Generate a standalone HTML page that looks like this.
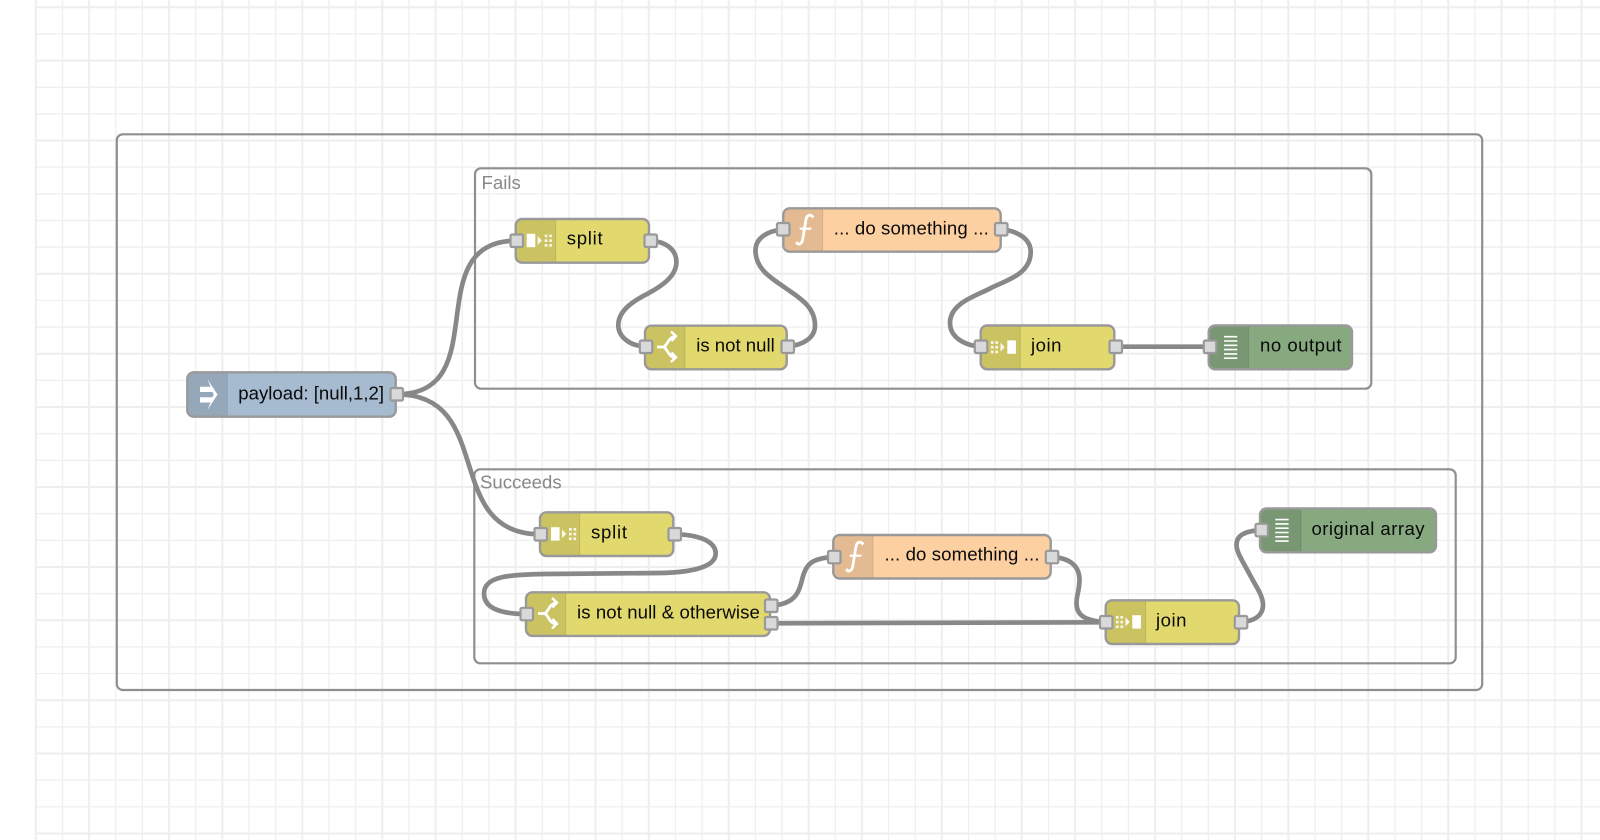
<!DOCTYPE html>
<html><head><meta charset="utf-8"><title>Flow</title>
<style>
html,body{margin:0;padding:0;background:#fff;width:1600px;height:840px;overflow:hidden}
svg{display:block}
text{font-family:"Liberation Sans",Arial,sans-serif}
.l{font-size:18.6px;fill:#0a0a0a}
.g{font-size:18.6px;fill:#888}
.n{stroke:#999;stroke-width:2.4}
.w{fill:none;stroke:#888;stroke-width:4.7}
.b{fill:none;stroke:#8f8f8f;stroke-width:2.2}
.p{fill:#d9d9d9;stroke:#999;stroke-width:2.2}
.d{fill:#000;fill-opacity:.1}
</style></head>
<body>
<svg width="1600" height="840" viewBox="0 0 1600 840" xmlns="http://www.w3.org/2000/svg">
<defs>
<pattern id="gv" patternUnits="userSpaceOnUse" x="30.8" y="0" width="213.2" height="840">
<g stroke="#eee" fill="none">
<path stroke-width="1.2" d="M5 0V840M31.65 0V840M84.95 0V840M111.6 0V840M164.9 0V840"/>
<path stroke-width="2" d="M58.3 0V840M138.25 0V840M191.55 0V840"/>
</g>
</pattern>
<g id="isplit">
<rect x="11" y="-7" width="8.6" height="13.4" fill="#fff"/>
<path d="M22-4.8 26.2-.3 22 4.2z" fill="#fff" fill-opacity=".9"/>
<g fill="#fff" fill-opacity=".85"><rect x="29" y="-6.2" width="2.7" height="2.7"/><rect x="33.5" y="-6.2" width="2.7" height="2.7"/><rect x="29" y="-1.5" width="2.7" height="2.7"/><rect x="33.5" y="-1.5" width="2.7" height="2.7"/><rect x="29" y="3.2" width="2.7" height="2.7"/><rect x="33.5" y="3.2" width="2.7" height="2.7"/></g>
</g>
<g id="ijoin">
<rect x="26.6" y="-7" width="8.6" height="13.4" fill="#fff"/>
<path d="M19.8-4.8 24-.3 19.8 4.2z" fill="#fff" fill-opacity=".9"/>
<g fill="#fff" fill-opacity=".85"><rect x="10.2" y="-6.2" width="2.7" height="2.7"/><rect x="14.7" y="-6.2" width="2.7" height="2.7"/><rect x="10.2" y="-1.5" width="2.7" height="2.7"/><rect x="14.7" y="-1.5" width="2.7" height="2.7"/><rect x="10.2" y="3.2" width="2.7" height="2.7"/><rect x="14.7" y="3.2" width="2.7" height="2.7"/></g>
</g>
<g id="iswitch" fill="none" stroke="#fff" stroke-width="2.8">
<path d="M12-.5H18C22-.5 23-10.5 30-11M18-.5C22-.5 23 9.5 30 10"/>
<path d="M26-16 31-11.3 26.5-6.5M26.5 5 31 9.8 26 14.5" stroke-width="2.4"/>
</g>
<g id="idebug" stroke="#fff" stroke-width="1.6">
<path d="M15.3-10.8H28.6M15.3-6.5H28.6M15.3-2.2H28.6M15.3 2.1H28.6M15.3 6.4H28.6M15.3 10.7H28.6"/>
</g>
<g id="ifn" fill="none" stroke="#fff" stroke-width="2.8">
<path d="M30-12.5C27.5-16 23.5-16 22.5-9.5L19.5 9C18.5 14.5 15 15.5 13 12"/>
<path d="M16.4-1.3H28" stroke-width="2.2"/>
</g>
</defs>

<rect x="35" y="0" width="1565" height="840" fill="url(#gv)"/>
<path d="M35.8 0V840" stroke="#eee" stroke-width="2"/>
<g stroke="#eee" fill="none">
<path stroke-width="1.2" d="M35 33.95H1600M35 87.25H1600M35 113.9H1600M35 167.2H1600M35 193.85H1600M35 220.5H1600M35 247.15H1600M35 300.45H1600M35 327.1H1600M35 380.4H1600M35 433.7H1600M35 460.35H1600M35 513.65H1600M35 540.3H1600M35 593.6H1600M35 646.9H1600M35 673.55H1600M35 726.85H1600M35 780.15H1600M35 806.8H1600"/>
<path stroke-width="2" d="M35 7.3H1600M35 60.6H1600M35 140.55H1600M35 273.8H1600M35 353.75H1600M35 407.05H1600M35 487H1600M35 566.95H1600M35 620.25H1600M35 700.2H1600M35 753.5H1600M35 833.45H1600"/>
</g>

<!-- groups -->
<rect class="b" x="116.8" y="134.3" width="1365.4" height="555.7" rx="6"/>
<rect class="b" x="475" y="168.3" width="896.3" height="220.4" rx="6"/>
<rect class="b" x="474.3" y="469.3" width="981.4" height="194" rx="6"/>
<text class="g" x="481.5" y="189">Fails</text>
<text class="g" x="480" y="488.3">Succeeds</text>

<!-- wires -->
<path class="w" d="M396.7 394.3C496.7 394.3 416.7 240.7 516.7 240.7"/>
<path class="w" d="M396.7 394.3C496.7 394.3 440.7 534.3 540.7 534.3"/>
<path class="w" d="M650.7 240.7C665 241.5 676.4 249 676.4 262C676.4 277 660 287 648 293.5C635 300 618.3 310 618.3 325C618.3 337 630 346 646 346.7"/>
<path class="w" d="M787.7 346.7C803 345 815 338 815 325.5C815 306 798 297 785.5 288C773 279 755.5 270 755.5 250.5C755.5 238 767 231 783.3 229.3"/>
<path class="w" d="M1001.3 229.3C1018 231 1030.7 239 1030.7 252C1030.7 275 1004 281 991 288C976 296 950 303 950 323C950 336 962 345 981 346.7"/>
<path class="w" d="M1115.7 346.7H1210"/>
<path class="w" d="M674.7 534.3C700 534.5 715.7 542 715.7 553.5C715.7 570 680 572.7 660 573L545 574C510 574.5 484 576 484 593.5C484 608 500 614 526.7 614"/>
<path class="w" d="M771.3 605.7C796 604 799 592 802.5 578C806 564 812 558 834.3 557"/>
<path class="w" d="M771.3 623.3C871 623.3 1006 622.3 1106.3 622.3"/>
<path class="w" d="M1052 557C1070 558 1079.5 566 1079.5 580C1079.5 590 1076.5 595 1076.5 603C1076.5 616 1086 621 1106.3 622.3"/>
<path class="w" d="M1241 622.3C1255 621 1263 615 1263 605C1263 595 1255 585 1250 575C1245 565 1236.5 553 1236.5 545C1236.5 535 1245 531 1261.7 530"/>

<!-- inject -->
<rect class="n" x="187.3" y="372.3" width="208.4" height="44.4" rx="6.5" fill="#a6bbcf"/>
<path class="d" d="M193.8 373.5H227.3V415.5H193.8A5.5 5.5 0 0 1 188.5 410V379A5.5 5.5 0 0 1 193.8 373.5Z"/>
<path d="M227.3 373.5V415.5" stroke="#000" stroke-opacity=".1"/>
<path d="M207.5 379.3 217.5 394.5 207.5 410 210.5 402.5H200V397.2H212.5L213.8 394.5 212.5 392H200V386.7H210.5Z" fill="#fff"/>
<text class="l" x="238.3" y="399.3">payload: [null,1,2]</text>

<!-- split 1 -->
<rect class="n" x="515.7" y="219" width="133.3" height="43.7" rx="6.5" fill="#E2D96E"/>
<path class="d" d="M522 220.2H555.7V261.5H522A5.5 5.5 0 0 1 516.9 256V225.7A5.5 5.5 0 0 1 522 220.2Z"/>
<path d="M555.7 220.2V261.5" stroke="#000" stroke-opacity=".1"/>
<use href="#isplit" transform="translate(515.7 240.8)"/>
<text class="l" x="566.7" y="244.3" textLength="36" lengthAdjust="spacing">split</text>

<!-- switch 1 -->
<rect class="n" x="645" y="325.7" width="141.7" height="43.6" rx="6.5" fill="#E2D96E"/>
<path class="d" d="M651.5 326.9H685V368.1H651.5A5.5 5.5 0 0 1 646.2 362.6V332.4A5.5 5.5 0 0 1 651.5 326.9Z"/>
<path d="M685 326.9V368.1" stroke="#000" stroke-opacity=".1"/>
<use href="#iswitch" transform="translate(645 347.5)"/>
<text class="l" x="696.2" y="351.7">is not null</text>

<!-- function 1 -->
<rect class="n" x="783.3" y="208.3" width="217.4" height="43.4" rx="6.5" fill="#FDD0A2"/>
<path class="d" d="M789.8 209.5H822.7V250.5H789.8A5.5 5.5 0 0 1 784.5 245V215A5.5 5.5 0 0 1 789.8 209.5Z"/>
<path d="M822.7 209.5V250.5" stroke="#000" stroke-opacity=".1"/>
<use href="#ifn" transform="translate(783.3 230)"/>
<text class="l" x="833.8" y="234.3" textLength="155" lengthAdjust="spacing">... do something ...</text>

<!-- join 1 -->
<rect class="n" x="980.7" y="325.5" width="133.6" height="43.8" rx="6.5" fill="#E2D96E"/>
<path class="d" d="M987.2 326.7H1020.3V368.1H987.2A5.5 5.5 0 0 1 981.9 362.6V332.2A5.5 5.5 0 0 1 987.2 326.7Z"/>
<path d="M1020.3 326.7V368.1" stroke="#000" stroke-opacity=".1"/>
<use href="#ijoin" transform="translate(980.7 347.4)"/>
<text class="l" x="1031" y="351.7" textLength="30.5" lengthAdjust="spacing">join</text>

<!-- debug 1 -->
<rect class="n" x="1208.7" y="325.5" width="143.3" height="43.8" rx="6.5" fill="#87A980"/>
<path class="d" d="M1215.2 326.7H1248.7V368.1H1215.2A5.5 5.5 0 0 1 1209.9 362.6V332.2A5.5 5.5 0 0 1 1215.2 326.7Z"/>
<path d="M1248.7 326.7V368.1" stroke="#000" stroke-opacity=".1"/>
<use href="#idebug" transform="translate(1208.7 347.5)"/>
<text class="l" x="1260" y="351.7" textLength="81.5" lengthAdjust="spacing">no output</text>

<!-- split 2 -->
<rect class="n" x="540" y="512.3" width="133.3" height="43.7" rx="6.5" fill="#E2D96E"/>
<path class="d" d="M546.5 513.5H579.7V554.8H546.5A5.5 5.5 0 0 1 541.2 549.3V519A5.5 5.5 0 0 1 546.5 513.5Z"/>
<path d="M579.7 513.5V554.8" stroke="#000" stroke-opacity=".1"/>
<use href="#isplit" transform="translate(540 534.2)"/>
<text class="l" x="591" y="538.3" textLength="36" lengthAdjust="spacing">split</text>

<!-- switch 2 -->
<rect class="n" x="526" y="592.3" width="244" height="43.6" rx="6.5" fill="#E2D96E"/>
<path class="d" d="M532.5 593.5H565.7V634.7H532.5A5.5 5.5 0 0 1 527.2 629.2V599A5.5 5.5 0 0 1 532.5 593.5Z"/>
<path d="M565.7 593.5V634.7" stroke="#000" stroke-opacity=".1"/>
<use href="#iswitch" transform="translate(526 614)"/>
<text class="l" x="577" y="618.3" textLength="182.8" lengthAdjust="spacing">is not null &amp; otherwise</text>

<!-- function 2 -->
<rect class="n" x="833.3" y="535" width="217.4" height="43.5" rx="6.5" fill="#FDD0A2"/>
<path class="d" d="M839.8 536.2H873V577.3H839.8A5.5 5.5 0 0 1 834.5 571.8V541.7A5.5 5.5 0 0 1 839.8 536.2Z"/>
<path d="M873 536.2V577.3" stroke="#000" stroke-opacity=".1"/>
<use href="#ifn" transform="translate(833.3 557)"/>
<text class="l" x="884.5" y="560.7" textLength="155" lengthAdjust="spacing">... do something ...</text>

<!-- join 2 -->
<rect class="n" x="1105.7" y="600.3" width="133.3" height="43.7" rx="6.5" fill="#E2D96E"/>
<path class="d" d="M1112.2 601.5H1145.7V642.8H1112.2A5.5 5.5 0 0 1 1106.9 637.3V607A5.5 5.5 0 0 1 1112.2 601.5Z"/>
<path d="M1145.7 601.5V642.8" stroke="#000" stroke-opacity=".1"/>
<use href="#ijoin" transform="translate(1105.7 622.2)"/>
<text class="l" x="1156" y="626.7" textLength="30.5" lengthAdjust="spacing">join</text>

<!-- debug 2 -->
<rect class="n" x="1260" y="508.5" width="176" height="43.8" rx="6.5" fill="#87A980"/>
<path class="d" d="M1266.5 509.7H1301V551.1H1266.5A5.5 5.5 0 0 1 1261.2 545.6V515.2A5.5 5.5 0 0 1 1266.5 509.7Z"/>
<path d="M1301 509.7V551.1" stroke="#000" stroke-opacity=".1"/>
<use href="#idebug" transform="translate(1260 530.4)"/>
<text class="l" x="1311.5" y="535" textLength="113" lengthAdjust="spacing">original array</text>

<!-- ports -->
<rect class="p" x="390.5" y="388" width="12.5" height="12.5" rx="1.5"/>
<rect class="p" x="510.5" y="234.5" width="12.5" height="12.5" rx="1.5"/>
<rect class="p" x="644.5" y="234.5" width="12.5" height="12.5" rx="1.5"/>
<rect class="p" x="639.8" y="340.5" width="12.5" height="12.5" rx="1.5"/>
<rect class="p" x="781.5" y="340.5" width="12.5" height="12.5" rx="1.5"/>
<rect class="p" x="777" y="223" width="12.5" height="12.5" rx="1.5"/>
<rect class="p" x="995" y="223" width="12.5" height="12.5" rx="1.5"/>
<rect class="p" x="974.8" y="340.5" width="12.5" height="12.5" rx="1.5"/>
<rect class="p" x="1109.5" y="340.5" width="12.5" height="12.5" rx="1.5"/>
<rect class="p" x="1203.8" y="340.5" width="12.5" height="12.5" rx="1.5"/>
<rect class="p" x="534.5" y="528" width="12.5" height="12.5" rx="1.5"/>
<rect class="p" x="668.5" y="528" width="12.5" height="12.5" rx="1.5"/>
<rect class="p" x="520.5" y="607.8" width="12.5" height="12.5" rx="1.5"/>
<rect class="p" x="765" y="599.5" width="12.5" height="12.5" rx="1.5"/>
<rect class="p" x="765" y="617" width="12.5" height="12.5" rx="1.5"/>
<rect class="p" x="828" y="550.8" width="12.5" height="12.5" rx="1.5"/>
<rect class="p" x="1045.8" y="550.8" width="12.5" height="12.5" rx="1.5"/>
<rect class="p" x="1100" y="616" width="12.5" height="12.5" rx="1.5"/>
<rect class="p" x="1234.8" y="616" width="12.5" height="12.5" rx="1.5"/>
<rect class="p" x="1255.5" y="523.8" width="12.5" height="12.5" rx="1.5"/>
</svg>
</body></html>
